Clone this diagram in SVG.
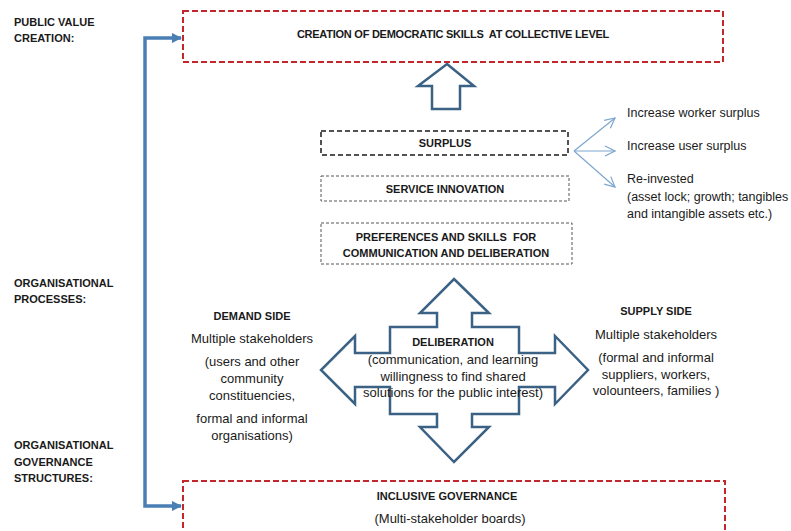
<svg xmlns="http://www.w3.org/2000/svg" width="791" height="531" viewBox="0 0 791 531">
  <style>
    text { font-family: "Liberation Sans", Arial, sans-serif; fill: #1a1a1a; white-space: pre; }
    .lvl { font-size: 11px; font-weight: bold; }
    .hd { font-size: 11px; font-weight: bold; text-anchor: middle; }
    .body { font-size: 13px; text-anchor: middle; }
    .note { font-size: 12.5px; }
    .red-box { fill: #ffffff; stroke: #c3272b; stroke-width: 2; stroke-dasharray: 6 3; }
    .surplus-box { fill: #ffffff; stroke: #1a1a1a; stroke-width: 1.5; stroke-dasharray: 5 3; }
    .thin-box { fill: #ffffff; stroke: #555555; stroke-width: 1; stroke-dasharray: 3 2; }
    .block-arrow { fill: #ffffff; stroke: #3b6284; stroke-width: 2.5; stroke-linejoin: miter; }
    .bracket { fill: none; stroke: #4a7fb5; stroke-width: 3.5; }
    .branch { fill: none; stroke: #7ea6cf; stroke-width: 1.2; }
  </style>
  <defs>
    <marker id="bracket-head" viewBox="0 0 10 10" refX="9" refY="5" markerWidth="3" markerHeight="3" orient="auto-start-reverse">
      <path d="M0,0 L10,5 L0,10 Z" fill="#4a7fb5"/>
    </marker>
    <marker id="open-head" viewBox="0 0 12 12" refX="11" refY="6" markerWidth="12" markerHeight="12" markerUnits="userSpaceOnUse" orient="auto">
      <path d="M1,1 L11,6 L1,11" fill="none" stroke="#7ea6cf" stroke-width="1.2"/>
    </marker>
  </defs>

  <rect width="791" height="531" fill="#ffffff"/>

  <!-- level labels on the left -->
  <g id="level-labels">
    <text class="lvl" x="14" y="26">PUBLIC VALUE</text>
    <text class="lvl" x="14" y="42">CREATION:</text>
    <text class="lvl" x="14" y="287">ORGANISATIONAL</text>
    <text class="lvl" x="14" y="303">PROCESSES:</text>
    <text class="lvl" x="14" y="449">ORGANISATIONAL</text>
    <text class="lvl" x="14" y="466">GOVERNANCE</text>
    <text class="lvl" x="14" y="482">STRUCTURES:</text>
  </g>

  <!-- connectors -->
  <g id="connectors">
    <path class="bracket" d="M181,38 H145 V506 H181" marker-start="url(#bracket-head)" marker-end="url(#bracket-head)"/>
    <line class="branch" x1="574" y1="151" x2="615" y2="118" marker-end="url(#open-head)"/>
    <line class="branch" x1="574" y1="151" x2="615" y2="151" marker-end="url(#open-head)"/>
    <line class="branch" x1="574" y1="151" x2="615" y2="187" marker-end="url(#open-head)"/>
  </g>

  <g id="democratic-skills">
    <rect class="red-box" x="183" y="11" width="540" height="51"/>
    <text class="hd" x="453" y="38" letter-spacing="-0.25">CREATION OF DEMOCRATIC SKILLS  AT COLLECTIVE LEVEL</text>
  </g>

  <g id="up-arrow">
    <path class="block-arrow" d="M447,64 L474,86 L460,86 L460,109 L432,109 L432,86 L418,86 Z"/>
  </g>

  <g id="surplus">
    <rect class="surplus-box" x="321" y="131" width="247" height="24"/>
    <text class="hd" x="445" y="147">SURPLUS</text>
  </g>

  <g id="service-innovation">
    <rect class="thin-box" x="321" y="176" width="248" height="25"/>
    <text class="hd" x="445" y="193">SERVICE INNOVATION</text>
  </g>

  <g id="preferences">
    <rect class="thin-box" x="321" y="223" width="251" height="41"/>
    <text class="hd" x="446" y="241" font-size="11.5">PREFERENCES AND SKILLS  FOR</text>
    <text class="hd" x="446" y="257" font-size="11.5">COMMUNICATION AND DELIBERATION</text>
  </g>

  <g id="surplus-uses">
    <text class="note" x="627" y="117">Increase worker surplus</text>
    <text class="note" x="627" y="150">Increase user surplus</text>
    <text class="note" x="627" y="183">Re-invested</text>
    <text class="note" x="627" y="201">(asset lock; growth; tangibles</text>
    <text class="note" x="627" y="218">and intangible assets etc.)</text>
  </g>

  <g id="demand-side">
    <text class="hd" x="252" y="320" font-size="11.5">DEMAND SIDE</text>
    <text class="body" x="252" y="343">Multiple stakeholders</text>
    <text class="body" x="252" y="366">(users and other</text>
    <text class="body" x="252" y="383">community</text>
    <text class="body" x="252" y="400">constituencies,</text>
    <text class="body" x="252" y="423">formal and informal</text>
    <text class="body" x="252" y="440">organisations)</text>
  </g>

  <g id="deliberation">
    <path class="block-arrow" d="M454,279 L489,313 L472,313 L472,327 L519,327 L519,353 L555,353 L555,336 L588,370 L555,404 L555,387 L519,387 L519,414 L472,414 L472,427 L489,427 L454,462 L420,427 L437,427 L437,414 L390,414 L390,387 L355,387 L355,404 L321,370 L355,336 L355,353 L390,353 L390,327 L437,327 L437,313 L420,313 Z"/>
    <text class="hd" x="453" y="346">DELIBERATION</text>
    <text class="body" x="453" y="364">(communication, and learning</text>
    <text class="body" x="453" y="381">willingness to find shared</text>
    <text class="body" x="453" y="397">solutions for the public interest)</text>
  </g>

  <g id="supply-side">
    <text class="hd" x="656" y="315" font-size="11.5">SUPPLY SIDE</text>
    <text class="body" x="656" y="339">Multiple stakeholders</text>
    <text class="body" x="656" y="362">(formal and informal</text>
    <text class="body" x="656" y="379">suppliers, workers,</text>
    <text class="body" x="656" y="395">volounteers, families )</text>
  </g>

  <g id="inclusive-governance">
    <rect class="red-box" x="183" y="481" width="542" height="62"/>
    <text class="hd" x="447" y="500">INCLUSIVE GOVERNANCE</text>
    <text class="body" x="450" y="523">(Multi-stakeholder boards)</text>
  </g>
</svg>
